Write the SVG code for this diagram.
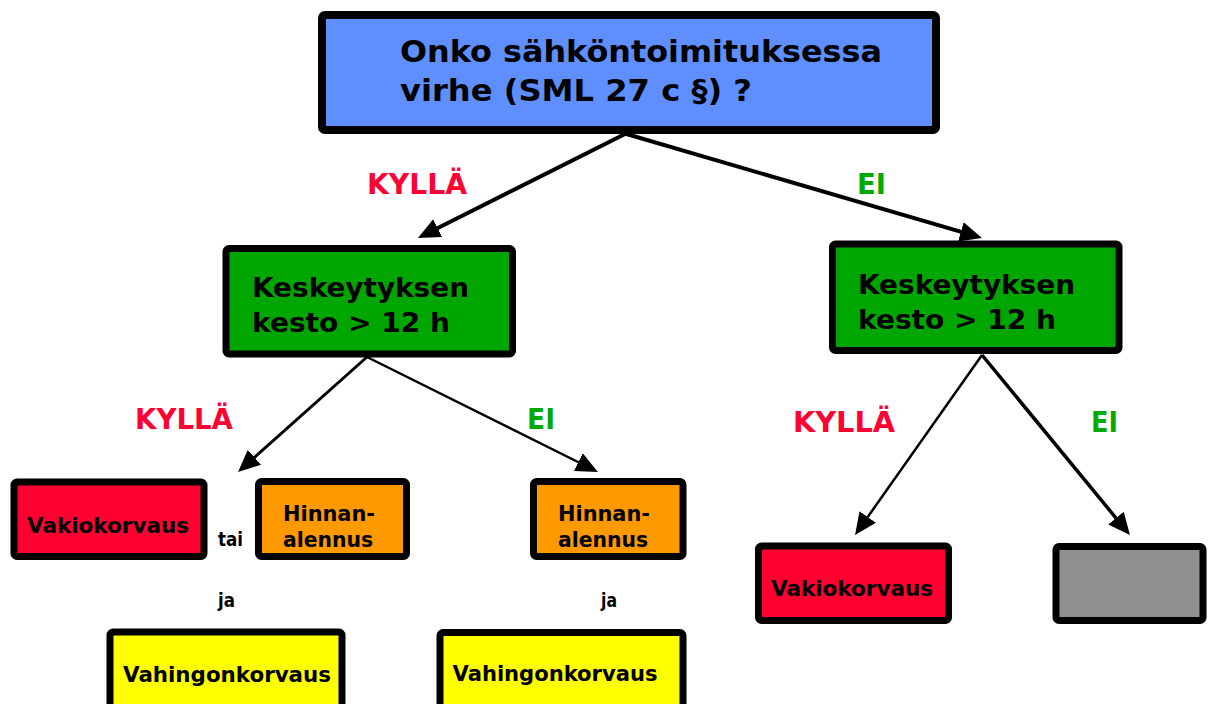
<svg xmlns="http://www.w3.org/2000/svg" width="1213" height="704" viewBox="0 0 1213 704">
<style>
.box{stroke:#000;stroke-width:7;stroke-linejoin:round}
.t{font-family:"DejaVu Sans","Verdana",sans-serif;font-weight:bold;fill:#000}
.yes{font-family:"DejaVu Sans",sans-serif;font-weight:bold;fill:#ff0033;font-size:28px}
.no{font-family:"DejaVu Sans",sans-serif;font-weight:bold;fill:#00aa00;font-size:28px}
.c{stroke:#000;fill:none}
</style>
<defs>
<marker id="ah" viewBox="0 0 22 20" refX="12" refY="10" markerWidth="22" markerHeight="20" markerUnits="userSpaceOnUse" orient="auto">
<path d="M0,0 L22,10 L0,20 z" fill="#000"/>
</marker>
</defs>
<rect width="1213" height="704" fill="#fff"/>
<g id="connectors">
<line class="c" stroke-width="4" x1="627" y1="133" x2="426.9" y2="233.5" marker-end="url(#ah)"/>
<line class="c" stroke-width="4" x1="623" y1="133" x2="972.4" y2="235.2" marker-end="url(#ah)"/>
<line class="c" stroke-width="3" x1="367" y1="357" x2="245.5" y2="465.3" marker-end="url(#ah)"/>
<line class="c" stroke-width="2.5" x1="367" y1="357" x2="589" y2="467.5" marker-end="url(#ah)"/>
<line class="c" stroke-width="2.5" x1="982" y1="355" x2="860.8" y2="526.8" marker-end="url(#ah)"/>
<line class="c" stroke-width="3.5" x1="982" y1="355" x2="1123.6" y2="527.3" marker-end="url(#ah)"/>
</g>
<g id="labels">
<text class="yes" x="367" y="194" textLength="100" lengthAdjust="spacingAndGlyphs">KYLLÄ</text>
<text class="no" x="857" y="194" textLength="29" lengthAdjust="spacingAndGlyphs">EI</text>
<text class="yes" x="135" y="429" textLength="98" lengthAdjust="spacingAndGlyphs">KYLLÄ</text>
<text class="no" x="527" y="429" textLength="28" lengthAdjust="spacingAndGlyphs">EI</text>
<text class="yes" x="793" y="432" textLength="102" lengthAdjust="spacingAndGlyphs">KYLLÄ</text>
<text class="no" x="1091" y="432" textLength="27" lengthAdjust="spacingAndGlyphs">EI</text>
<text class="t" font-size="19" x="218" y="546" textLength="25" lengthAdjust="spacingAndGlyphs">tai</text>
<text class="t" font-size="19" x="218" y="607" textLength="17" lengthAdjust="spacingAndGlyphs">ja</text>
<text class="t" font-size="19" x="601" y="607" textLength="16" lengthAdjust="spacingAndGlyphs">ja</text>
</g>
<g id="q1">
<rect class="box" style="stroke-width:8" x="322" y="15" width="614" height="115" rx="3" fill="#5f8eff"/>
<text class="t" font-size="31" x="400" y="62" textLength="482" lengthAdjust="spacingAndGlyphs">Onko sähköntoimituksessa</text>
<text class="t" font-size="31" x="400" y="101" textLength="352" lengthAdjust="spacingAndGlyphs">virhe (SML 27 c §) ?</text>
</g>
<g id="q2left">
<rect class="box" x="226" y="248.5" width="286.5" height="105.5" rx="3" fill="#00a600"/>
<text class="t" font-size="27" x="252" y="297" textLength="217" lengthAdjust="spacingAndGlyphs">Keskeytyksen</text>
<text class="t" font-size="27" x="252" y="332" textLength="198" lengthAdjust="spacingAndGlyphs">kesto &gt; 12 h</text>
</g>
<g id="q2right">
<rect class="box" x="832.5" y="244" width="286.5" height="106.5" rx="3" fill="#00a600"/>
<text class="t" font-size="27" x="858" y="293.5" textLength="217" lengthAdjust="spacingAndGlyphs">Keskeytyksen</text>
<text class="t" font-size="27" x="858" y="329" textLength="198" lengthAdjust="spacingAndGlyphs">kesto &gt; 12 h</text>
</g>
<g id="vakio1">
<rect class="box" x="14" y="482" width="190" height="74.5" rx="3" fill="#ff0030"/>
<text class="t" font-size="21" x="27" y="533" textLength="162" lengthAdjust="spacingAndGlyphs">Vakiokorvaus</text>
</g>
<g id="hinta1">
<rect class="box" x="258.5" y="481.5" width="148" height="75" rx="3" fill="#ff9900"/>
<text class="t" font-size="21" x="283" y="520.5" textLength="92" lengthAdjust="spacingAndGlyphs">Hinnan-</text>
<text class="t" font-size="21" x="283" y="546.5" textLength="90" lengthAdjust="spacingAndGlyphs">alennus</text>
</g>
<g id="vahinko1">
<rect class="box" x="110" y="632" width="232" height="90" rx="3" fill="#ffff00"/>
<text class="t" font-size="21" x="123" y="681.5" textLength="208" lengthAdjust="spacingAndGlyphs">Vahingonkorvaus</text>
</g>
<g id="hinta2">
<rect class="box" x="533.5" y="481.5" width="149.5" height="75" rx="3" fill="#ff9900"/>
<text class="t" font-size="21" x="558" y="520.5" textLength="92" lengthAdjust="spacingAndGlyphs">Hinnan-</text>
<text class="t" font-size="21" x="558" y="546.5" textLength="90" lengthAdjust="spacingAndGlyphs">alennus</text>
</g>
<g id="vahinko2">
<rect class="box" x="440" y="632.5" width="243" height="90" rx="3" fill="#ffff00"/>
<text class="t" font-size="21" x="452.5" y="680.5" textLength="205" lengthAdjust="spacingAndGlyphs">Vahingonkorvaus</text>
</g>
<g id="vakio2">
<rect class="box" x="758.5" y="546" width="190" height="74.5" rx="3" fill="#ff0030"/>
<text class="t" font-size="21" x="771" y="596" textLength="162" lengthAdjust="spacingAndGlyphs">Vakiokorvaus</text>
</g>
<g id="empty">
<rect class="box" x="1056" y="546.5" width="147" height="74" rx="3" fill="#909090"/>
</g>
</svg>
